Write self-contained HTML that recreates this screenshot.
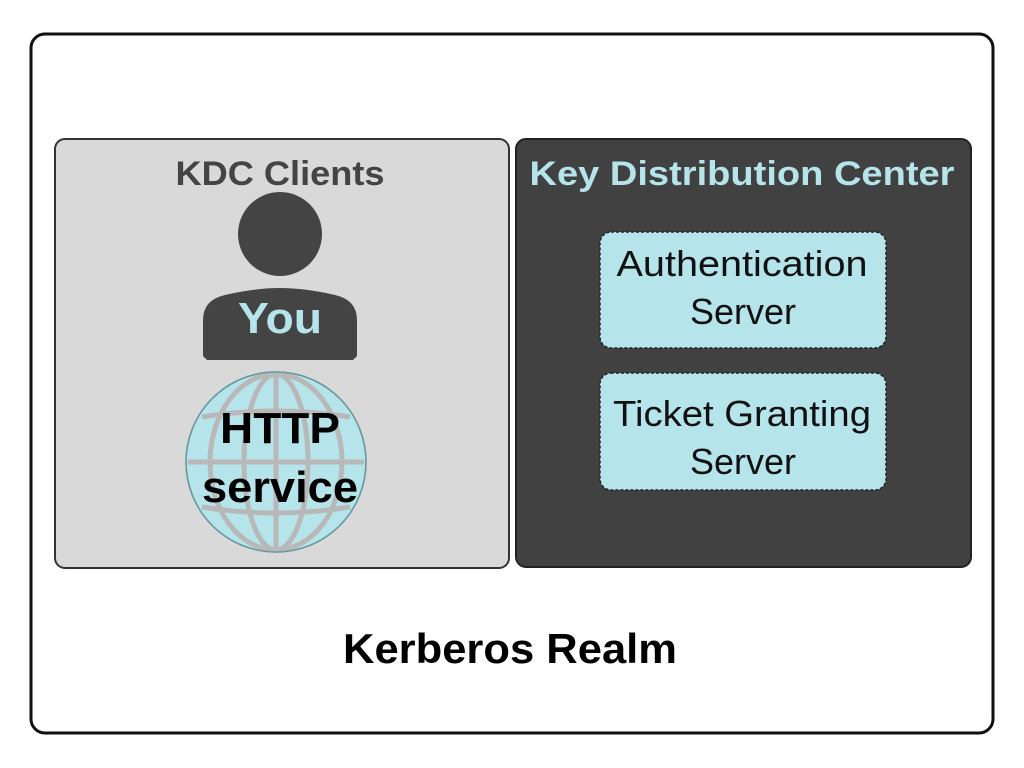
<!DOCTYPE html>
<html><head><meta charset="utf-8"><style>html,body{margin:0;padding:0;background:#fff}svg{display:block}</style></head>
<body>
<svg width="1024" height="768" viewBox="0 0 1024 768" xmlns="http://www.w3.org/2000/svg" font-family="Liberation Sans, sans-serif">
<rect x="0" y="0" width="1024" height="768" fill="#fff"/>
<rect x="31" y="34" width="962" height="699" rx="14" fill="#fff" stroke="#111" stroke-width="3"/>
<rect x="55" y="139" width="454" height="429" rx="10" fill="#d9d9d9" stroke="#333" stroke-width="2"/>
<rect x="516" y="139" width="455" height="428" rx="10" fill="#414141" stroke="#222" stroke-width="2"/>
<text x="280" y="185" font-weight="bold" font-size="34" fill="#444" text-anchor="middle" textLength="209" lengthAdjust="spacingAndGlyphs">KDC Clients</text>
<text x="742" y="185" font-weight="bold" font-size="34" fill="#b5e4ea" text-anchor="middle" textLength="425" lengthAdjust="spacingAndGlyphs">Key Distribution Center</text>
<!-- person -->
<circle cx="280" cy="234" r="42" fill="#444"/>
<path d="M203 320 Q203 300 225 295 Q255 288 280 288 Q305 288 335 295 Q357 300 357 320 L357 356 L353 360 L207 360 L203 356 Z" fill="#444"/>
<text x="280" y="333" font-weight="bold" font-size="44" fill="#b5e4ea" text-anchor="middle" textLength="84" lengthAdjust="spacingAndGlyphs">You</text>
<!-- globe -->
<circle cx="276" cy="462" r="90" fill="#b5e4ea" stroke="#6a9aa0" stroke-width="1.5"/>
<g fill="none" stroke="#b8b8b8" stroke-width="5">
<ellipse cx="276" cy="462" rx="32" ry="88"/>
<ellipse cx="276" cy="462" rx="66" ry="88"/>
<line x1="188" y1="462" x2="364" y2="462"/>
<path d="M202 417 Q276 405 350 417"/>
<path d="M202 507 Q276 519 350 507"/>
<line x1="276" y1="374" x2="276" y2="550"/>
</g>
<circle cx="276" cy="462" r="90" fill="none" stroke="#6a9aa0" stroke-width="1.5"/>
<text x="280" y="443" font-weight="bold" font-size="44" fill="#000" text-anchor="middle" textLength="120" lengthAdjust="spacingAndGlyphs">HTTP</text>
<text x="280" y="502" font-weight="bold" font-size="44" fill="#000" text-anchor="middle" textLength="156" lengthAdjust="spacingAndGlyphs">service</text>
<!-- boxes -->
<rect x="600" y="232" width="286" height="116" rx="11" fill="#b5e4ea" stroke="#222" stroke-width="1.5" stroke-dasharray="3 2"/>
<rect x="600" y="373" width="286" height="117" rx="11" fill="#b5e4ea" stroke="#222" stroke-width="1.5" stroke-dasharray="3 2"/>
<g font-size="36" fill="#111" text-anchor="middle">
<text x="742" y="276" textLength="251" lengthAdjust="spacingAndGlyphs">Authentication</text>
<text x="743" y="324" textLength="106" lengthAdjust="spacingAndGlyphs">Server</text>
<text x="742" y="426" textLength="258" lengthAdjust="spacingAndGlyphs">Ticket Granting</text>
<text x="743" y="474" textLength="106" lengthAdjust="spacingAndGlyphs">Server</text>
</g>
<text x="510" y="663" font-weight="bold" font-size="42" fill="#000" text-anchor="middle" textLength="334" lengthAdjust="spacingAndGlyphs">Kerberos Realm</text>
</svg>
</body></html>
